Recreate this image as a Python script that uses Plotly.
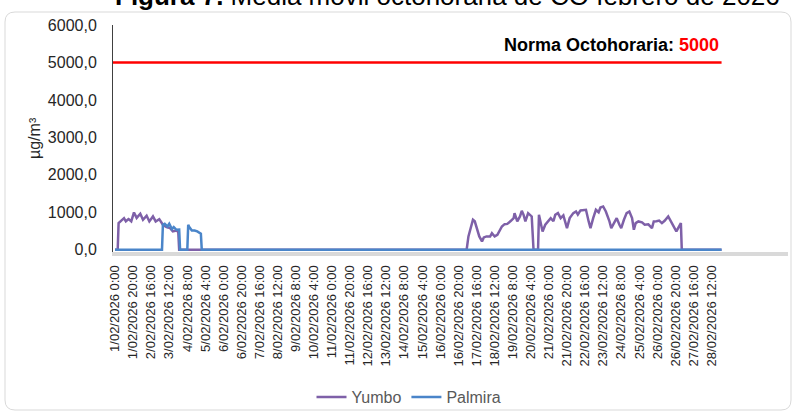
import plotly.graph_objects as go

# hourly index: 0 = 1/02/2026 0:00 ... 671 = 28/02/2026 23:00
TICK_HOURS = list(range(0, 661, 20))
TICK_LABELS = ["1/02/2026 0:00", "1/02/2026 20:00", "2/02/2026 16:00", "3/02/2026 12:00",
               "4/02/2026 8:00", "5/02/2026 4:00", "6/02/2026 0:00", "6/02/2026 20:00",
               "7/02/2026 16:00", "8/02/2026 12:00", "9/02/2026 8:00", "10/02/2026 4:00",
               "11/02/2026 0:00", "11/02/2026 20:00", "12/02/2026 16:00", "13/02/2026 12:00",
               "14/02/2026 8:00", "15/02/2026 4:00", "16/02/2026 0:00", "16/02/2026 20:00",
               "17/02/2026 16:00", "18/02/2026 12:00", "19/02/2026 8:00", "20/02/2026 4:00",
               "21/02/2026 0:00", "21/02/2026 20:00", "22/02/2026 16:00", "23/02/2026 12:00",
               "24/02/2026 8:00", "25/02/2026 4:00", "26/02/2026 0:00", "26/02/2026 20:00",
               "27/02/2026 16:00", "28/02/2026 12:00"]
LAST_HOUR = 671
NORMA = 5000

yumbo_h = [0, 3, 4, 7, 10, 12, 15, 18, 21, 24, 28, 31, 35, 38, 42, 45, 49, 53, 57, 61, 64, 68, 70, 71,
           389, 391, 393, 396, 398, 400, 403, 406, 408, 411, 415, 417, 420, 423, 426, 428, 431, 434,
           438, 441, 442, 445, 448, 450, 452, 454, 457, 461, 463, 468, 469, 473, 476, 479, 482, 485,
           487, 490, 493, 496, 500, 503, 507, 510, 512, 515, 518, 521, 524, 526, 529, 532, 535, 537,
           540, 543, 547, 549, 552, 555, 558, 560, 563, 566, 569, 572, 574, 576, 579, 583, 586, 590,
           594, 596, 599, 602, 605, 608, 612, 615, 618, 621, 623, 626, 627, 671]
yumbo_v = [0, 0, 712, 782, 844, 760, 820, 760, 995, 850, 960, 800, 907, 756, 889, 756, 818, 667, 605, 578, 489, 515, 470, 0,
           0, 356, 533, 800, 760, 578, 356, 222, 329, 356, 356, 444, 356, 400, 533, 622, 684, 690,
           773, 844, 978, 756, 889, 1040, 933, 756, 978, 889, 0, 0, 933, 489, 667, 756, 844, 760,
           933, 978, 844, 916, 578, 844, 978, 1022, 940, 1050, 1067, 1067, 756, 578, 844, 1067, 1000, 1129,
           1156, 1022, 756, 578, 711, 844, 667, 578, 800, 978, 1022, 844, 533, 711, 756, 730, 667, 680,
           578, 756, 760, 778, 711, 773, 889, 756, 622, 489, 578, 711, 0, 0]

palmira_h = [0, 52, 53, 55, 58, 60, 63, 65, 68, 70, 71, 72, 80, 81, 82, 85, 88, 91, 94, 95, 96, 671]
palmira_v = [0, 0, 667, 693, 622, 693, 551, 605, 533, 551, 540, 0, 0, 667, 613, 515, 515, 489, 444, 430, 0, 0]

X_RANGE = [-2.2, 744.5]

fig = go.Figure()
fig.add_trace(go.Scatter(x=yumbo_h, y=yumbo_v, mode="lines", name="Yumbo",
                         line=dict(color="#7e60a8", width=2.5)))
fig.add_trace(go.Scatter(x=palmira_h, y=palmira_v, mode="lines", name="Palmira",
                         line=dict(color="#4a85c9", width=2.5)))
fig.add_trace(go.Scatter(x=[X_RANGE[0], LAST_HOUR], y=[NORMA, NORMA], mode="lines",
                         showlegend=False, line=dict(color="#ff0000", width=2.5)))

# pixel coords -> paper coords (plot area spans x 113..788, y 25..252)
def px(x):
    return (x - 113) / 675

def py(y):
    return (252 - y) / 227

x0, x1, y0, y1 = px(5), px(791), py(410), py(12)
rx, ry = 10 / 675, 10 / 227
border = (f"M {x0+rx} {y1} L {x1-rx} {y1} Q {x1} {y1} {x1} {y1-ry} L {x1} {y0+ry} "
          f"Q {x1} {y0} {x1-rx} {y0} L {x0+rx} {y0} Q {x0} {y0} {x0} {y0+ry} "
          f"L {x0} {y1-ry} Q {x0} {y1} {x0+rx} {y1} Z")

fig.update_layout(
    width=793, height=414,
    margin=dict(l=113, r=5, t=25, b=162, autoexpand=False),
    paper_bgcolor="white", plot_bgcolor="white",
    font=dict(family="Liberation Sans, Arial", color="#262626"),
    shapes=[dict(type="path", path=border, xref="paper", yref="paper",
                 line=dict(color="#d9d9d9", width=1), layer="below")],
    legend=dict(orientation="h", x=px(409), y=py(397), xanchor="center", yanchor="middle",
                font=dict(size=16, color="#595959"), bgcolor="rgba(0,0,0,0)"),
    annotations=[
        dict(text="<b>Figura 7.</b> Media móvil octohoraria de CO febrero de 2026",
             x=px(447), y=py(-4), xref="paper", yref="paper", showarrow=False,
             xanchor="center", yanchor="middle", font=dict(size=26, color="black")),
        dict(text="<b>Norma Octohoraria: <span style='color:#ff0000'>5000</span></b>",
             x=px(721), y=py(45), xref="paper", yref="paper", showarrow=False,
             xanchor="right", yanchor="middle", font=dict(size=18, color="black")),
        dict(text="µg/m³", x=px(34), y=py(138), xref="paper", yref="paper", showarrow=False,
             textangle=-90, xanchor="center", yanchor="middle", font=dict(size=16, color="#262626")),
    ],
)
fig.update_xaxes(range=X_RANGE, tickvals=TICK_HOURS, ticktext=TICK_LABELS, tickangle=-90,
                 showgrid=False, zeroline=False, showline=True, linecolor="#d9d9d9", linewidth=4,
                 ticks="", tickfont=dict(size=13, color="#262626"), ticklabelstandoff=4,
                 automargin=False)
fig.update_yaxes(range=[-60, 6000], tickvals=[0, 1000, 2000, 3000, 4000, 5000, 6000],
                 ticktext=["0,0", "1000,0", "2000,0", "3000,0", "4000,0", "5000,0", "6000,0"],
                 showgrid=False, zeroline=False, showline=True, linecolor="#404040", linewidth=1,
                 ticks="", tickfont=dict(size=16, color="#262626"), ticklabelstandoff=12,
                 automargin=False)

# drop the default body margin so the chart sits at the page's top-left corner
fig.write_html("out.html", config={"displayModeBar": False},
               post_script="document.body.style.margin='0px';")
